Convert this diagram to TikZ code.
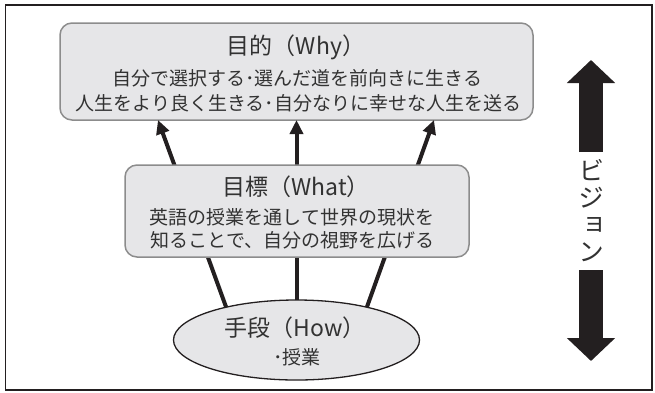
\documentclass[tikz,border=0pt]{standalone}
\usepackage{fontspec}
\setmainfont{Noto Sans CJK JP}
\newfontfamily\vfont[RawFeature=+vert]{Noto Sans CJK JP}
\usetikzlibrary{arrows.meta,shapes.geometric}
\definecolor{boxfill}{RGB}{230,230,232}
\definecolor{boxline}{RGB}{140,140,140}
\definecolor{ink}{RGB}{35,31,32}
\definecolor{txt}{RGB}{50,50,50}
\begin{document}
\begin{tikzpicture}[x=1pt,y=-1pt,
  frm/.style={draw=ink, line width=1.5pt, inner sep=0pt, outer sep=0pt},
  box/.style={draw=boxline, line width=1.5pt, fill=boxfill, rounded corners=12pt, inner sep=0pt, outer sep=0pt},
  ell/.style={ellipse, draw=ink, line width=1.3pt, fill=boxfill, inner sep=0pt, outer sep=0pt, minimum width=246pt, minimum height=80pt},
  ttl/.style={text=txt, font=\fontsize{23}{27}\selectfont, inner sep=0pt},
  body/.style={text=txt, font=\fontsize{19}{22}\selectfont, inner sep=0pt},
  vtxt/.style={text=txt, font=\vfont\fontsize{26}{27}\selectfont, align=center, inner sep=0pt, outer sep=0pt, minimum height=118pt},
  link/.style={draw=ink, line width=4pt},
  arr/.style={link, -{Triangle[width=13pt,length=14pt]}},
  big/.style={draw=ink, line width=24pt, -{Triangle[width=47pt,length=23pt]}},
]
\useasboundingbox (0,0) rectangle (655,392);
\node[frm, minimum width=646.5pt, minimum height=385pt] (frame) at (328.75,197.4) {};
\node[box, minimum width=473pt, minimum height=97pt] (why) at (296.5,71.5) {};
\node[ell] (how) at (296.5,340) {};
\draw[arr] (how.155) -- ([xshift=98pt]why.south west);
\draw[arr] (how.north) -- (why.south);
\draw[arr] (how.25) -- ([xshift=-99pt]why.south east);
\node[box, minimum width=344pt, minimum height=92pt] (what) at (297,211) {};
\node[ttl] (whyT) at (296,47) {目的（Why）};
\node[body] (whyA) at (297.5,78) {自分で選択する･選んだ道を前向きに生きる};
\node[body] (whyB) at (298.5,103) {人生をより良く生きる･自分なりに幸せな人生を送る};
\node[ttl] (whatT) at (296,187) {目標（What）};
\node[body] (whatA) at (292,217) {英語の授業を通して世界の現状を};
\node[body] (whatB) at (292.5,240) {知ることで、自分の視野を広げる};
\node[ttl] (howT) at (295,328) {手段（How）};
\node[body] (howA) at (297,357) {･授業};
\node[vtxt] (vision) at (591,211) {ビ\\ジ\\ョ\\ン};
\coordinate (vtop) at (591,60);
\coordinate (vbot) at (591,361);
\draw[big] (vision.north) -- (vtop);
\draw[big] (vision.south) -- (vbot);
\end{tikzpicture}
\end{document}
